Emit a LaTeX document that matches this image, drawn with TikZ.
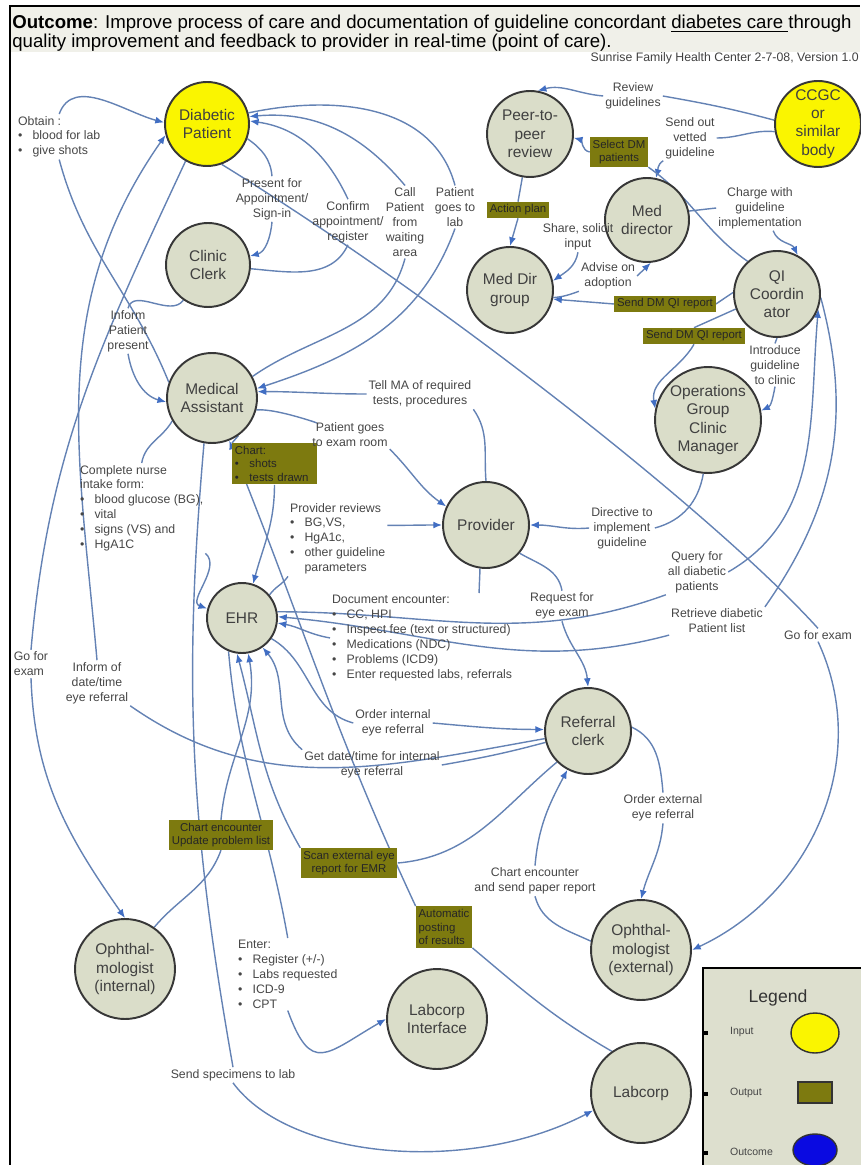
\documentclass[tikz,border=0pt]{standalone}
\usepackage{fontspec}
\setmainfont{Liberation Sans}
\usetikzlibrary{arrows.meta, calc}
\definecolor{nodefill}{RGB}{218, 221, 201}
\definecolor{nodeedge}{RGB}{55, 55, 55}
\definecolor{inyellow}{RGB}{250, 245, 0}
\definecolor{outolive}{RGB}{125, 122, 15}
\definecolor{flowblue}{RGB}{100, 130, 180}
\definecolor{tipblue}{RGB}{65, 110, 195}
\definecolor{lbltext}{RGB}{70, 70, 70}
\definecolor{titlebg}{RGB}{240, 240, 233}
\definecolor{legendbg}{RGB}{221, 223, 206}
\definecolor{outcomeblue}{RGB}{10, 10, 225}
\newcommand{\bitem}[1]{\makebox[2.9mm][l]{\textbullet}#1}
\pgfdeclarelayer{bg}
\pgfsetlayers{bg,main}

\begin{document}
\begin{tikzpicture}[x=0.02cm, y=0.02cm,
  proc/.style={circle, draw=nodeedge, line width=1.1pt, fill=nodefill, text=black!75,
    font=\fontsize{8.8}{10.4}\selectfont, align=center, inner sep=0pt},
  inp/.style={proc, fill=inyellow},
  outbox/.style={fill=outolive, text=black!85, font=\fontsize{6.5}{7.8}\selectfont, inner sep=1.5pt},
  lbl/.style={text=lbltext, font=\fontsize{7}{8.5}\selectfont, align=center, inner sep=1pt},
  flow/.style={draw=flowblue, line width=0.8pt},
  arr/.style={flow, -{Latex[length=5pt, width=4pt, color=tipblue]}}]
  \useasboundingbox (0,0) rectangle (860,-1165);

  % title
  \begin{pgfonlayer}{bg}
    \fill[titlebg] (10,-7) rectangle (860,-52);
  \end{pgfonlayer}
  \draw[line width=0.9pt] (10,-1165) -- (10,-6) -- (860,-6);
  \node[anchor=north west, inner sep=0pt, align=left, font=\fontsize{10.6}{10.8}\selectfont] (title) at (12,-15)
    {\textbf{Outcome}: Improve process of care and documentation of guideline concordant \underline{diabetes care }through\\
     quality improvement and feedback to provider in real-time (point of care).};
  \node[anchor=east, inner sep=0pt, font=\fontsize{7}{8}\selectfont, text=black!75] (version) at (859,-58)
    {Sunrise Family Health Center 2-7-08, Version 1.0};

  % actors
  \node[inp, minimum size=1.68cm] (pat) at (207,-124) {Diabetic\\Patient};
  \node[proc, minimum size=1.68cm] (clerk) at (208,-265) {Clinic\\Clerk};
  \node[proc, minimum size=1.8cm] (ma) at (212,-398) {Medical\\Assistant};
  \node[proc, minimum size=1.4cm] (ehr) at (242,-618) {EHR};
  \node[proc, minimum size=1.72cm] (peer) at (530,-134) {Peer-to-\\peer\\review};
  \node[proc, minimum size=1.72cm] (mdg) at (510,-290) {Med Dir\\group};
  \node[inp, minimum size=1.72cm] (ccgc) at (818,-124) {CCGC\\or\\similar\\body};
  \node[proc, minimum size=1.68cm] (md) at (647,-220) {Med\\director};
  \node[proc, minimum size=1.72cm] (qi) at (777,-294) {QI\\Coordin\\ator};
  \node[proc, minimum size=2.12cm] (ops) at (708,-420) {Operations\\Group\\Clinic\\Manager};
  \node[proc, minimum size=1.72cm] (prov) at (486,-525) {Provider};
  \node[proc, minimum size=1.72cm] (ref) at (588,-731) {Referral\\clerk};
  \node[proc, minimum size=2cm] (ophe) at (641,-950) {Ophthal-\\mologist\\(external)};
  \node[proc, minimum size=2cm] (ophi) at (125,-969) {Ophthal-\\mologist\\(internal)};
  \node[proc, minimum size=2cm] (labi) at (437,-1019) {Labcorp\\Interface};
  \node[proc, minimum size=2cm] (labc) at (641,-1093) {Labcorp};

  % outputs
  \node[outbox, align=center] (seldm) at (619,-152) {Select DM\\patients};
  \node[outbox] (actplan) at (518,-210) {Action plan};
  \node[outbox] (qirep1) at (665,-304) {Send DM QI report};
  \node[outbox] (qirep2) at (694,-336) {Send DM QI report};
  \node[outbox, anchor=north west, text width=1.58cm, align=left] (chart) at (232,-443) {Chart:\\\bitem{shots}\\\bitem{tests drawn}};
  \node[outbox, align=center] (chenc) at (221,-835) {Chart encounter\\Update problem list};
  \node[outbox, align=center] (scan) at (349,-863) {Scan external eye\\report for EMR};
  \node[outbox, align=left] (autop) at (444,-927) {Automatic\\posting\\of results};

  % labels
  \node[lbl, anchor=north west, align=left] (obtain) at (16,-114) {Obtain :\\\bitem{blood for lab}\\\bitem{give shots}};
  \node[lbl] (pres) at (272,-199) {Present for\\Appointment/\\Sign-in};
  \node[lbl] (conf) at (348,-222) {Confirm\\appointment/\\register};
  \node[lbl] (call) at (405,-222) {Call\\Patient\\from\\waiting\\area};
  \node[lbl] (plab) at (455,-207) {Patient\\goes to\\lab};
  \node[lbl] (infpres) at (128,-331) {Inform\\Patient\\present};
  \node[lbl] (tell) at (420,-394) {Tell MA of required\\tests, procedures};
  \node[lbl] (exam) at (350,-435) {Patient goes\\to exam room};
  \node[lbl, anchor=north west, align=left] (nurse) at (78,-463) {Complete nurse\\intake form:\\\bitem{blood  glucose (BG),}\\\bitem{vital}\\\bitem{signs (VS) and}\\\bitem{HgA1C}};
  \node[lbl, anchor=north west, align=left] (rev) at (288,-501) {Provider reviews\\\bitem{BG,VS,}\\\bitem{HgA1c,}\\\bitem{other  guideline}\\\hspace*{2.9mm}parameters};
  \node[lbl] (dir) at (622,-528) {Directive to\\implement\\guideline};
  \node[lbl] (query) at (697,-572) {Query for\\all diabetic\\patients};
  \node[lbl] (req) at (562,-606) {Request for\\eye exam};
  \node[lbl, anchor=north west, align=left] (doc) at (330,-593) {Document encounter:\\\bitem{CC, HPI}\\\bitem{Inspect fee (text or structured)}\\\bitem{Medications (NDC)}\\\bitem{Problems (ICD9)}\\\bitem{Enter requested labs, referrals}};
  \node[lbl] (retr) at (717,-621) {Retrieve diabetic\\Patient list};
  \node[lbl] (gor) at (818,-635) {Go for exam};
  \node[lbl, align=left] (gol) at (31,-664) {Go for\\exam};
  \node[lbl] (infdate) at (97,-683) {Inform of\\date/time\\eye referral};
  \node[lbl] (ordint) at (393,-723) {Order internal\\eye referral};
  \node[lbl] (getdt) at (372,-765) {Get date/time for internal\\eye referral};
  \node[lbl] (ordext) at (663,-808) {Order external\\eye referral};
  \node[lbl] (chsend) at (535,-881) {Chart encounter\\and send paper report};
  \node[lbl, anchor=north west, align=left] (enter) at (236,-938) {Enter:\\\bitem{Register (+/-)}\\\bitem{Labs requested}\\\bitem{ICD-9}\\\bitem{CPT}};
  \node[lbl] (send) at (233,-1075) {Send specimens to lab};
  \node[lbl] (revg) at (633,-96) {Review\\guidelines};
  \node[lbl] (sendout) at (690,-138) {Send out\\vetted\\guideline};
  \node[lbl] (charge) at (760,-208) {Charge with\\guideline\\implementation};
  \node[lbl] (share) at (578,-237) {Share, solicit\\input};
  \node[lbl] (advise) at (608,-276) {Advise on\\adoption};
  \node[lbl] (intro) at (775,-365) {Introduce\\guideline\\to clinic};

  \begin{pgfonlayer}{bg}
    % patient side
    \draw[flow] (ma.160) to[out=112, in=-75] (obtain.south);
    \draw[arr] (obtain.north) to[out=70, in=165] (pat.178);
    \draw[flow] (pat.240) to[out=-115, in=85] (gol.north);
    \draw[arr] (gol.south) to[out=-88, in=125] (ophi.north);
    \draw[flow] (ref.190) to[out=190, in=-35] (infdate.south east);
    \draw[arr] (infdate.north) to[out=95, in=235] (pat.195);
    \draw[flow] (pat.-20) to[out=-35, in=95] (pres.north);
    \draw[arr] (pres.south) to[out=-95, in=15] (clerk.12);
    \draw[flow] (clerk.-5) to[out=-5, in=-115] (conf.south);
    \draw[arr] (conf.north) to[out=115, in=-8] (pat.4);
    \draw[flow] (ma.28) to[out=35, in=-105] (call.south);
    \draw[arr] (call.north) to[out=130, in=5] (pat.10);
    \draw[flow] (pat.15) to[out=12, in=105] (plab.north);
    \draw[arr] (plab.south) to[out=-110, in=18] (ma.12);
    \draw[flow] (clerk.235) to[out=-125, in=75] (infpres.north);
    \draw[arr] (infpres.south) to[out=-80, in=165] (ma.185);
    \draw[flow] (pat.-70) .. controls (450,-305) and (720,-520) .. (gor.north);
    \draw[arr] (gor.south) to[out=-65, in=25] (ophe.east);

    % medical assistant and provider
    \draw[flow] (prov.north) to[out=95, in=-55] (tell.south east);
    \draw[arr] (tell.west) to[out=180, in=0] (ma.8);
    \draw[flow] (ma.-15) to[out=5, in=-20] (exam.160);
    \draw[arr] (exam.south east) to[out=-45, in=145] (prov.155);
    \draw[flow] (ma.210) to[out=-120, in=80] (nurse.north);
    \draw[arr] (nurse.south east) to[out=-40, in=160] (ehr.165);
    \draw[flow] (ma.-55) -- (chart.north west);
    \draw[arr] (chart.south) to[out=-90, in=75] (ehr.72);
    \draw[flow] (ehr.40) to[out=55, in=-125] (rev.south west);
    \draw[arr] (rev.15) to[out=0, in=180] (prov.west);
    \draw[flow] (ops.-95) to[out=-100, in=15] (dir.east);
    \draw[arr] (dir.west) to[out=185, in=0] (prov.east);
    \draw[flow] (prov.-40) to[out=-30, in=100] (req.north);
    \draw[arr] (req.south) to[out=-75, in=95] (ref.north);
    \draw[flow] (prov.-98) to[out=-90, in=90] ([xshift=-0.7cm]doc.north east);
    \draw[arr] (doc.west) to[out=170, in=-10] (ehr.-8);
    \draw[flow] (ehr.10) to[out=0, in=200] (query.south west);
    \draw[arr] (query.east) to[out=30, in=-95] (qi.-20);
    \draw[flow] (qi.-5) to[out=-75, in=55] (retr.north east);
    \draw[arr] (retr.south west) to[out=195, in=-5] (ehr.2);

    % referrals
    \draw[flow] (ehr.-35) to[out=-30, in=165] (ordint.west);
    \draw[arr] (ordint.east) to[out=-5, in=180] (ref.178);
    \draw[flow] (ref.195) to[out=195, in=10] (getdt.east);
    \draw[arr] (getdt.north west) to[out=140, in=-50] (ehr.-55);
    \draw[flow] (ref.5) to[out=-25, in=95] (ordext.north);
    \draw[arr] (ordext.south) to[out=-95, in=75] (ophe.north);
    \draw[flow] (ophe.170) to[out=155, in=-75] (chsend.south);
    \draw[arr] (chsend.north) to[out=85, in=-118] (ref.-118);
    \draw[flow] (ref.-135) to[out=-140, in=5] (scan.east);
    \draw[arr] (scan.north west) to[out=120, in=-75] (ehr.-98);
    \draw[flow] (ophi.55) to[out=50, in=-110] (chenc.south);
    \draw[arr] (chenc.north) to[out=85, in=-80] (ehr.-80);

    % labs
    \draw[flow] (ehr.-112) to[out=-85, in=100] (enter.north);
    \draw[arr] (enter.south) to[out=-70, in=210, looseness=1.8] (labi.west);
    \draw[flow] (ma.-100) to[out=-95, in=100] (send.north);
    \draw[arr] (send.south) .. controls (290,-1160) and (470,-1175) .. (labc.200);
    \draw[flow] (labc.125) to[out=150, in=-40] (autop.south east);
    \draw[arr] (autop.north west) to[out=115, in=-68] (ma.-68);

    % guideline side
    \draw[flow] (ccgc.175) to[out=165, in=-10] (revg.east);
    \draw[arr] (revg.west) to[out=175, in=15] (peer.80);
    \draw[flow] (ccgc.190) to[out=175, in=0] (sendout.east);
    \draw[arr] (sendout.south west) to[out=-150, in=75] (md.78);
    \draw[flow] (qi.132) to[out=145, in=-35] (seldm.south east);
    \draw[arr] (seldm.west) to[out=170, in=-15] (peer.-5);
    \draw[flow] (peer.-100) -- (actplan.north);
    \draw[arr] (actplan.south) -- (mdg.north);
    \draw[flow] (md.172) -- (share.north east);
    \draw[arr] (share.south) to[out=-100, in=35] (mdg.12);
    \draw[flow] (mdg.-10) to[out=5, in=200] (advise.south west);
    \draw[arr] (advise.east) -- (md.-85);
    \draw[flow] (md.12) -- (charge.west);
    \draw[arr] (charge.-60) to[out=-70, in=115] (qi.62);
    \draw[flow] (qi.178) -- (qirep1.east);
    \draw[arr] (qirep1.west) -- (mdg.-12);
    \draw[flow] (qi.200) -- (qirep2.north);
    \draw[arr] (qirep2.south) to[out=-120, in=100] (ops.168);
    \draw[flow] (qi.-90) -- (intro.north);
    \draw[arr] (intro.south) to[out=-100, in=25] (ops.10);
  \end{pgfonlayer}

  % legend
  \draw[line width=1pt, fill=legendbg] (703,-968) rectangle (875,-1175);
  \node[font=\fontsize{10}{12}\selectfont, text=black!80] (legendtitle) at (778,-998) {Legend};
  \node[lbl, anchor=west, font=\fontsize{6}{7}\selectfont] (leginput) at (728,-1032) {Input};
  \node[lbl, anchor=west, font=\fontsize{6}{7}\selectfont] (legoutput) at (728,-1093) {Output};
  \node[lbl, anchor=west, font=\fontsize{6}{7}\selectfont] (legoutcome) at (728,-1152) {Outcome};
  \draw[fill=inyellow, draw=black!80, line width=0.8pt] (815,-1033) ellipse [x radius=0.48cm, y radius=0.4cm];
  \draw[fill=outolive, draw=black!80, line width=0.8pt] (798,-1082) rectangle (832,-1103);
  \draw[fill=outcomeblue, draw=black!80, line width=0.8pt] (815,-1150) ellipse [x radius=0.44cm, y radius=0.32cm];
  \fill (704,-1031) rectangle (708,-1035);
  \fill (704,-1092) rectangle (708,-1096);
  \fill (704,-1151) rectangle (708,-1155);
\end{tikzpicture}
\end{document}
